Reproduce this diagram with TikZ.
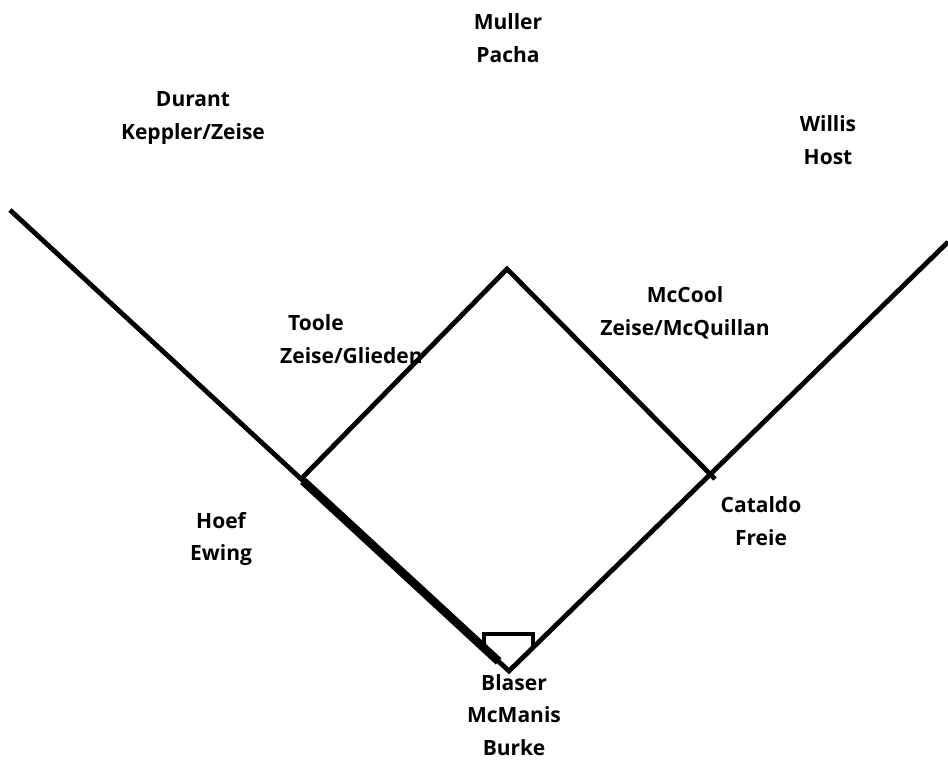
\documentclass[tikz,border=0pt]{standalone}
\usepackage{fontspec}
\setmainfont{Open Sans}
\usetikzlibrary{positioning, calc}

\tikzset{
    fieldline/.style={line width=4.8pt, line join=miter},
    player/.style={font=\fontsize{21}{32.5}\selectfont\bfseries, align=center, inner sep=0pt}
}

\begin{document}
\begin{tikzpicture}[x=1pt, y=-1pt]
    \useasboundingbox (0,0) rectangle (948,776);

    % bases and foul line ends
    \coordinate (home)   at (509,671);
    \coordinate (first)  at (715,479);
    \coordinate (second) at (507,269);
    \coordinate (third)  at (301,479);
    \coordinate (leftend)  at (10,210);
    \coordinate (rightend) at (948,242);
    \coordinate (plateL) at (484,647);
    \coordinate (plateR) at (533,647);

    % foul lines and infield
    \draw[fieldline] (leftend) -- (home) -- (rightend);
    \draw[line width=8.5pt] ($(third)!0.01!(home)$) -- ($(third)!0.95!(home)$);
    \draw[fieldline] (third) -- (second) -- (first);
    \draw[fieldline] (plateL) -- (484,634) -- (533,634) -- (plateR);

    % positions
    \node[player] (cf)   at (508,38)  {Muller\\Pacha};
    \node[player] (lf)   at (193,118) {Durant\\Keppler/Zeise};
    \node[player] (rf)   at (828,140) {Willis\\Host};
    \node[player, align=left, anchor=west] (ss) at (280,339) {\hspace{8pt}Toole\\Zeise/Glieden};
    \node[player] (2b)   at (685,313) {McCool\\Zeise/McQuillan};
    \node[player, align=left, anchor=west] (3b) at (190,539) {\hspace{6pt}Hoef\\Ewing};
    \node[player] (1b)   at (761,521) {Cataldo\\Freie};
    \node[player] (c)    at (514,715) {Blaser\\McManis\\Burke};
\end{tikzpicture}
\end{document}
